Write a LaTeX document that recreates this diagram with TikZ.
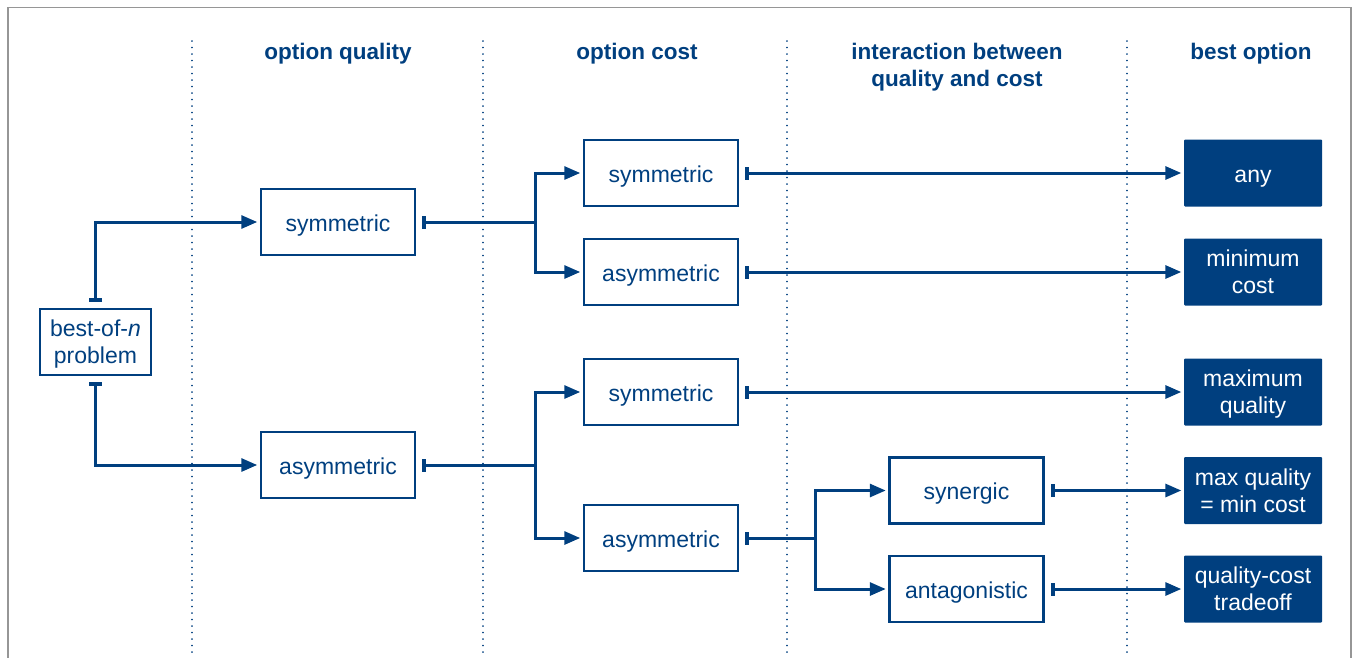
\documentclass[tikz,border=0pt]{standalone}
\usepackage{fontspec}
\setmainfont{Liberation Sans}
\usetikzlibrary{arrows.meta}
\definecolor{navy}{RGB}{0,63,127}
\definecolor{framegray}{RGB}{150,150,150}
\begin{document}
\begin{tikzpicture}[x=1pt,y=-1pt,
  txt/.style={font=\fontsize{23}{27}\selectfont, text=navy, align=center},
  one/.style={text height=18pt, text depth=0pt},
  two/.style={text depth=0pt},
  hdr/.style={font=\bfseries\fontsize{22.5}{27}\selectfont, text=navy, align=center},
  obox/.style={txt, draw=navy, line width=2.5pt, minimum width=154pt, minimum height=66pt, inner sep=0pt},
  sbox/.style={txt, draw=navy, line width=2.5pt, minimum width=111pt, minimum height=66pt, inner sep=0pt},
  fbox/.style={txt, text=white, fill=navy, rounded corners=1pt, minimum width=138pt, minimum height=67pt, inner sep=0pt},
  conn/.style={draw=navy, line width=3pt, {Bar[width=13pt,line width=4pt]}-{Triangle[length=16pt,width=13pt]}, shorten <=6pt, shorten >=2.5pt},
  sep/.style={draw=navy, line width=1.6pt, line cap=round, dash pattern=on 0.1pt off 6.4pt}
]
\useasboundingbox (0,0) rectangle (1356,657);
% frame
\draw[framegray, line width=1.5pt] (8,660) -- (8,7.5) -- (1351,7.5) -- (1351,660);
% separators
\foreach \x/\n in {192/s1,483/s2,787/s3,1127/s4} {
  \coordinate (\n t) at (\x,41);
  \coordinate (\n b) at (\x,657);
  \draw[sep] (\n t) -- (\n b);
}
% headers
\node[hdr] (h1) at (338,54) {option quality};
\node[hdr] (h2) at (637,54) {option cost};
\node[hdr] (h3) at (957,67.5) {interaction between\\quality and cost};
\node[hdr] (h4) at (1251,54) {best option};
% boxes
\node[sbox,two] (root) at (95.5,342) {best-of-\textit{n}\\problem};
\node[obox,one] (qs) at (338,222) {symmetric};
\node[obox,one] (qa) at (338,465) {asymmetric};
\node[obox,one] (c1) at (661,173) {symmetric};
\node[obox,one] (c2) at (661,272) {asymmetric};
\node[obox,one] (c3) at (661,392) {symmetric};
\node[obox,one] (c4) at (661,538) {asymmetric};
\node[obox,one] (i1) at (966.5,490.5) {synergic};
\node[obox,one] (i2) at (966.5,589) {antagonistic};
\node[fbox,one] (b1) at (1253,173) {any};
\node[fbox,two] (b2) at (1253,272) {minimum\\cost};
\node[fbox,two] (b3) at (1253,392) {maximum\\quality};
\node[fbox,two] (b4) at (1253,490.5) {max quality\\= min cost};
\node[fbox,two] (b5) at (1253,589) {quality-cost\\tradeoff};
% junction coordinates
\coordinate (j1) at (535,222);
\coordinate (j2) at (535,465);
\coordinate (j3) at (815,538);
% connectors
\draw[conn] (root.north) |- (qs.west);
\draw[conn] (root.south) |- (qa.west);
\draw[conn] (qs.east) -- (j1) |- (c1.west);
\draw[conn] (qs.east) -- (j1) |- (c2.west);
\draw[conn] (qa.east) -- (j2) |- (c3.west);
\draw[conn] (qa.east) -- (j2) |- (c4.west);
\draw[conn] (c4.east) -- (j3) |- (i1.west);
\draw[conn] (c4.east) -- (j3) |- (i2.west);
\draw[conn] (c1.east) -- (b1.west);
\draw[conn] (c2.east) -- (b2.west);
\draw[conn] (c3.east) -- (b3.west);
\draw[conn] (i1.east) -- (b4.west);
\draw[conn] (i2.east) -- (b5.west);
\end{tikzpicture}
\end{document}
